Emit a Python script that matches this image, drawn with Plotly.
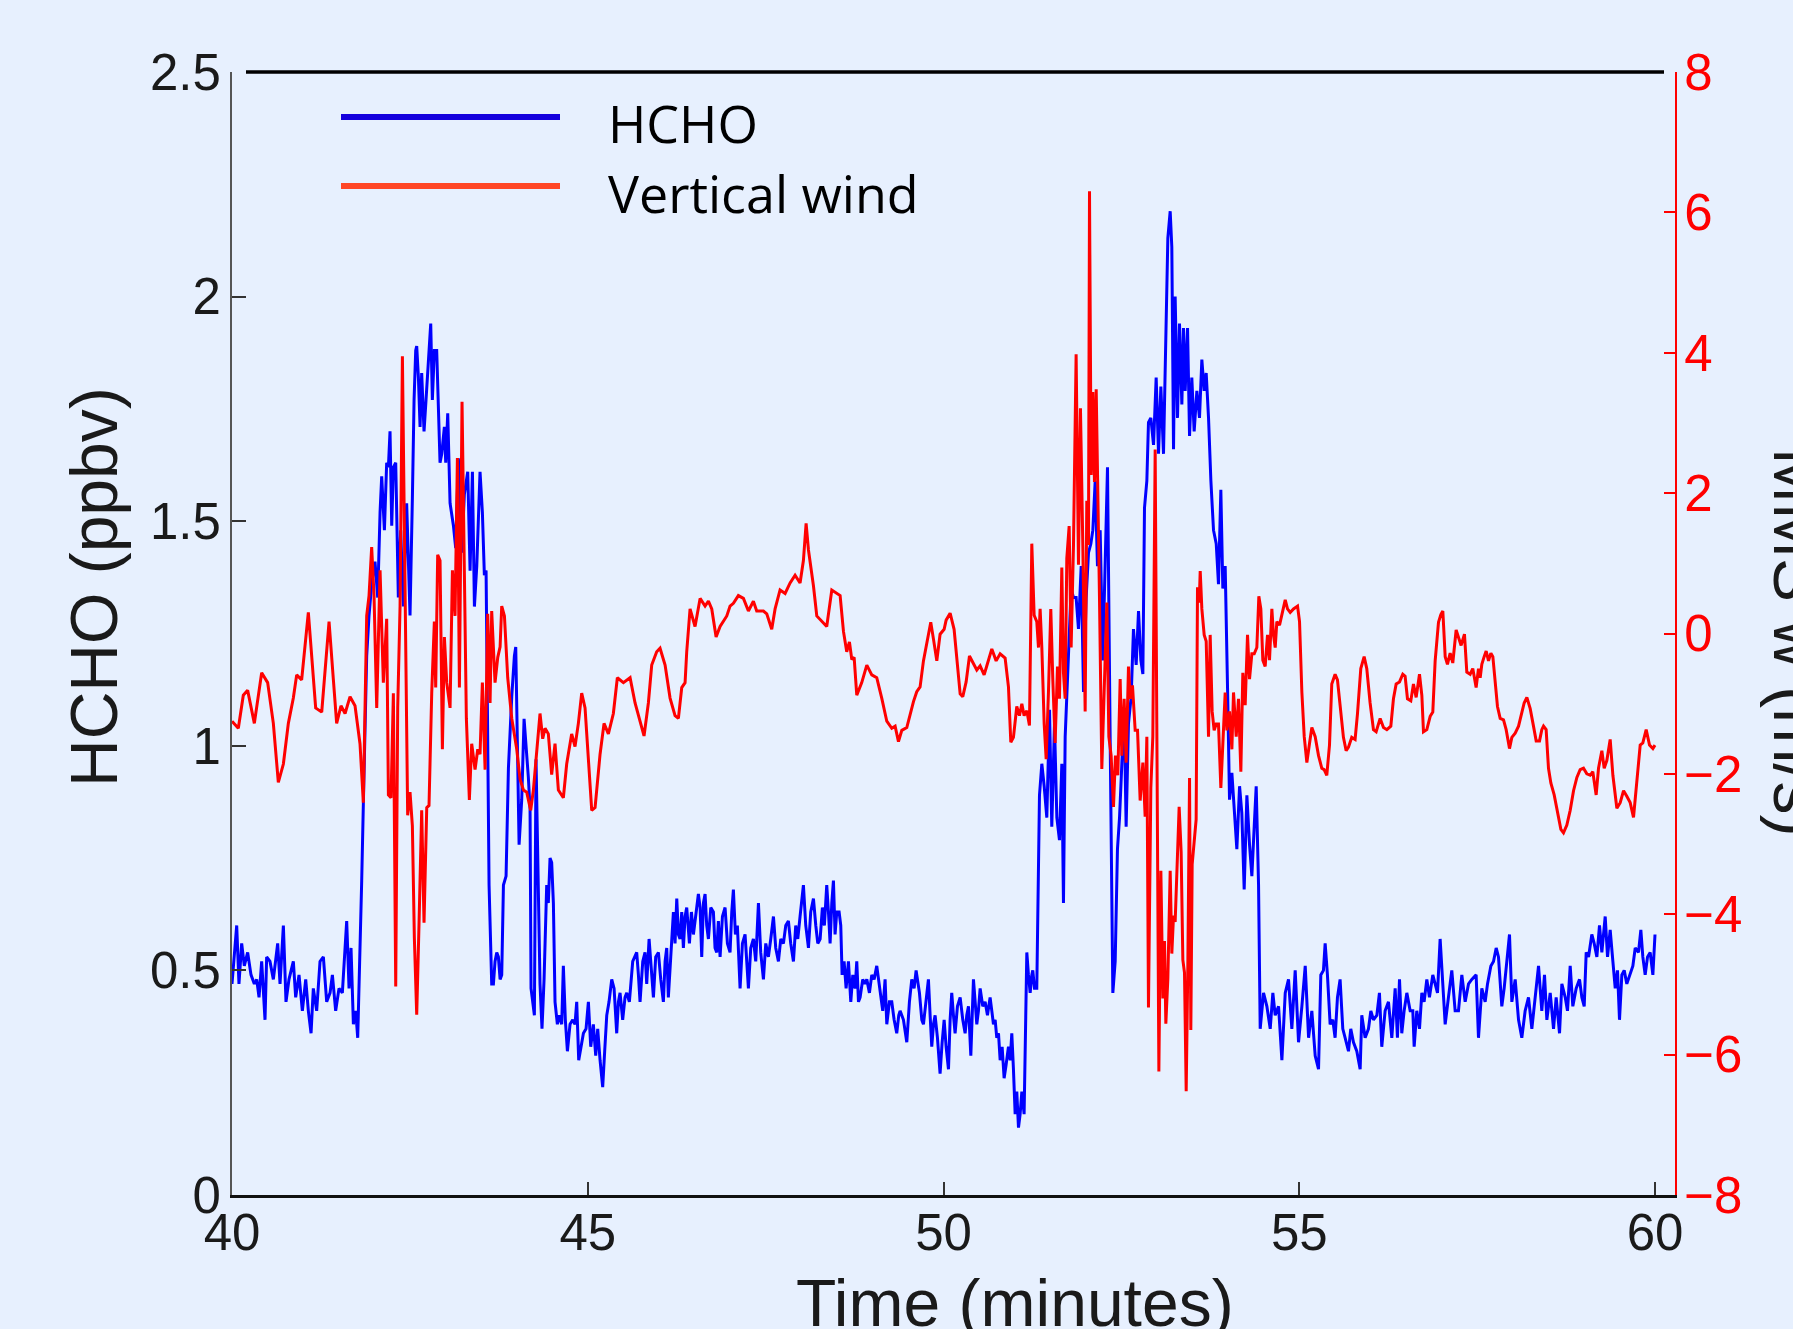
import plotly.graph_objects as go

# ---------------- data ----------------
x_ticks = [40, 45, 50, 55, 60]
hcho_ticks = [0, 0.5, 1, 1.5, 2, 2.5]
wind_ticks = [-8, -6, -4, -2, 0, 2, 4, 6, 8]

series_names = ["HCHO", "Vertical wind"]

# HCHO (ppbv) readings: (time in minutes, value)
hcho_readings = [
    (40.0,0.47),(40.033,0.53),(40.066,0.60),(40.098,0.47),(40.136,0.56),(40.173,0.51),(40.22,0.54),(40.267,0.49),
    (40.314,0.47),(40.347,0.48),(40.38,0.44),(40.417,0.52),(40.464,0.39),(40.487,0.53),(40.534,0.52),(40.581,0.48),
    (40.642,0.56),(40.675,0.47),(40.722,0.60),(40.759,0.43),(40.801,0.48),(40.862,0.52),(40.895,0.44),(40.942,0.49),
    (40.989,0.41),(41.036,0.48),(41.073,0.41),(41.111,0.36),(41.143,0.46),(41.19,0.41),(41.237,0.52),(41.284,0.53),
    (41.331,0.43),(41.378,0.45),(41.411,0.49),(41.457,0.41),(41.504,0.46),(41.551,0.45),(41.612,0.61),(41.645,0.46),
    (41.673,0.55),(41.706,0.38),(41.739,0.41),(41.767,0.35),(41.799,0.52),(41.823,0.70),(41.846,0.87),(41.893,1.20),
    (41.926,1.29),(41.963,1.36),(42.01,1.41),(42.048,1.33),(42.081,1.52),(42.104,1.60),(42.142,1.48),(42.174,1.63),
    (42.198,1.62),(42.221,1.70),(42.245,1.49),(42.268,1.62),(42.301,1.63),(42.338,1.33),(42.371,1.48),(42.409,1.31),
    (42.455,1.54),(42.502,1.29),(42.535,1.55),(42.559,1.77),(42.582,1.88),(42.596,1.89),(42.62,1.82),(42.643,1.71),
    (42.666,1.83),(42.699,1.70),(42.727,1.77),(42.76,1.87),(42.793,1.94),(42.816,1.77),(42.844,1.88),(42.877,1.88),
    (42.901,1.74),(42.924,1.63),(42.948,1.65),(42.985,1.71),(43.004,1.63),(43.032,1.74),(43.065,1.54),(43.088,1.52),
    (43.112,1.49),(43.144,1.44),(43.182,1.64),(43.205,1.52),(43.229,1.43),(43.266,1.56),(43.313,1.61),(43.346,1.39),
    (43.379,1.61),(43.407,1.31),(43.44,1.40),(43.486,1.61),(43.519,1.52),(43.547,1.38),(43.571,1.39),(43.59,1.08),
    (43.613,0.69),(43.65,0.47),(43.674,0.47),(43.697,0.52),(43.721,0.54),(43.744,0.53),(43.768,0.48),(43.791,0.49),
    (43.815,0.69),(43.852,0.71),(43.885,0.95),(43.932,1.11),(43.969,1.20),(43.988,1.22),(44.016,0.97),(44.035,0.78),
    (44.072,0.88),(44.105,1.06),(44.165,0.93),(44.189,0.86),(44.203,0.46),(44.226,0.43),(44.25,0.40),(44.273,0.97),
    (44.297,0.74),(44.329,0.47),(44.357,0.37),(44.386,0.48),(44.423,0.69),(44.446,0.65),(44.47,0.75),(44.493,0.74),
    (44.517,0.65),(44.54,0.43),(44.573,0.38),(44.601,0.40),(44.634,0.38),(44.657,0.51),(44.685,0.39),(44.714,0.32),
    (44.751,0.38),(44.789,0.39),(44.821,0.38),(44.845,0.43),(44.873,0.30),(44.901,0.33),(44.939,0.36),(44.976,0.37),
    (45.009,0.43),(45.042,0.33),(45.079,0.38),(45.112,0.31),(45.14,0.37),(45.173,0.30),(45.21,0.24),(45.238,0.32),
    (45.267,0.40),(45.299,0.43),(45.337,0.48),(45.37,0.46),(45.407,0.36),(45.431,0.43),(45.454,0.45),(45.491,0.39),
    (45.524,0.44),(45.548,0.45),(45.585,0.43),(45.632,0.52),(45.655,0.53),(45.688,0.54),(45.712,0.49),(45.735,0.43),
    (45.773,0.52),(45.805,0.54),(45.829,0.47),(45.862,0.57),(45.89,0.51),(45.923,0.44),(45.955,0.53),(45.993,0.54),
    (46.026,0.48),(46.063,0.43),(46.087,0.52),(46.11,0.55),(46.133,0.44),(46.166,0.52),(46.204,0.63),(46.227,0.56),
    (46.251,0.66),(46.274,0.58),(46.297,0.57),(46.321,0.63),(46.344,0.55),(46.368,0.62),(46.391,0.64),(46.429,0.56),
    (46.457,0.63),(46.485,0.58),(46.518,0.62),(46.555,0.67),(46.579,0.64),(46.602,0.53),(46.626,0.65),(46.649,0.67),
    (46.672,0.60),(46.696,0.57),(46.729,0.64),(46.766,0.63),(46.789,0.55),(46.813,0.54),(46.836,0.61),(46.86,0.53),
    (46.893,0.62),(46.93,0.64),(46.963,0.56),(47.0,0.54),(47.024,0.63),(47.047,0.68),(47.075,0.58),(47.103,0.60),
    (47.141,0.46),(47.174,0.56),(47.211,0.58),(47.235,0.52),(47.258,0.46),(47.291,0.55),(47.328,0.57),(47.361,0.52),
    (47.399,0.65),(47.431,0.54),(47.469,0.48),(47.502,0.56),(47.539,0.53),(47.572,0.57),(47.61,0.62),(47.642,0.55),
    (47.68,0.52),(47.713,0.57),(47.75,0.56),(47.783,0.60),(47.82,0.61),(47.853,0.56),(47.891,0.52),(47.923,0.60),
    (47.952,0.57),(47.984,0.62),(48.008,0.65),(48.031,0.69),(48.064,0.60),(48.102,0.55),(48.134,0.63),(48.172,0.66),
    (48.205,0.60),(48.233,0.56),(48.266,0.57),(48.298,0.64),(48.326,0.60),(48.359,0.69),(48.383,0.63),(48.406,0.56),
    (48.43,0.65),(48.453,0.70),(48.476,0.58),(48.5,0.63),(48.533,0.63),(48.556,0.60),(48.575,0.49),(48.603,0.52),
    (48.631,0.46),(48.664,0.52),(48.697,0.43),(48.725,0.49),(48.758,0.46),(48.781,0.52),(48.805,0.43),(48.828,0.44),
    (48.865,0.48),(48.893,0.47),(48.922,0.48),(48.959,0.45),(48.992,0.49),(49.025,0.48),(49.062,0.51),(49.095,0.47),
    (49.109,0.45),(49.146,0.41),(49.179,0.48),(49.203,0.38),(49.24,0.43),(49.273,0.43),(49.306,0.39),(49.343,0.36),
    (49.371,0.40),(49.39,0.41),(49.437,0.39),(49.484,0.34),(49.521,0.43),(49.554,0.48),(49.587,0.46),(49.615,0.50),
    (49.662,0.45),(49.695,0.39),(49.718,0.38),(49.756,0.43),(49.788,0.48),(49.812,0.40),(49.835,0.33),(49.859,0.38),
    (49.882,0.40),(49.915,0.35),(49.952,0.27),(49.981,0.34),(50.009,0.39),(50.037,0.33),(50.07,0.28),(50.093,0.39),
    (50.116,0.45),(50.14,0.40),(50.163,0.36),(50.196,0.42),(50.234,0.44),(50.271,0.39),(50.304,0.36),(50.327,0.40),
    (50.351,0.42),(50.384,0.31),(50.402,0.39),(50.421,0.48),(50.445,0.43),(50.468,0.38),(50.491,0.41),(50.515,0.46),
    (50.552,0.42),(50.585,0.43),(50.618,0.40),(50.655,0.44),(50.679,0.41),(50.702,0.38),(50.726,0.39),(50.749,0.35),
    (50.773,0.36),(50.796,0.30),(50.824,0.33),(50.852,0.26),(50.88,0.29),(50.913,0.33),(50.937,0.30),(50.96,0.36),
    (50.983,0.28),(51.007,0.18),(51.03,0.23),(51.054,0.15),(51.077,0.18),(51.101,0.23),(51.133,0.18),(51.152,0.39),
    (51.171,0.54),(51.194,0.49),(51.218,0.45),(51.241,0.49),(51.255,0.50),(51.279,0.46),(51.311,0.46),(51.349,0.89),
    (51.382,0.96),(51.415,0.91),(51.452,0.84),(51.49,1.08),(51.522,0.82),(51.56,1.05),(51.593,0.84),(51.63,0.79),
    (51.663,0.96),(51.686,0.65),(51.71,1.02),(51.733,1.11),(51.757,1.22),(51.794,1.35),(51.827,1.33),(51.864,1.33),
    (51.897,1.26),(51.935,1.40),(51.968,1.12),(52.005,1.33),(52.038,1.43),(52.071,1.45),(52.099,1.48),(52.132,1.59),
    (52.164,1.40),(52.202,1.48),(52.239,1.19),(52.272,1.40),(52.305,1.62),(52.342,1.02),(52.38,0.45),(52.413,0.52),
    (52.445,0.77),(52.474,0.84),(52.506,0.95),(52.539,1.08),(52.567,0.82),(52.6,1.05),(52.638,1.11),(52.67,1.26),
    (52.708,1.18),(52.741,1.30),(52.774,1.19),(52.802,1.16),(52.825,1.53),(52.858,1.59),(52.881,1.72),(52.914,1.73),
    (52.952,1.67),(52.989,1.82),(53.022,1.65),(53.055,1.80),(53.092,1.65),(53.125,1.96),(53.153,2.13),(53.186,2.19),
    (53.209,2.11),(53.233,1.66),(53.256,2.00),(53.289,1.73),(53.317,1.94),(53.35,1.76),(53.373,1.93),(53.397,1.79),
    (53.43,1.93),(53.458,1.69),(53.49,1.82),(53.523,1.70),(53.561,1.79),(53.598,1.73),(53.631,1.86),(53.664,1.79),
    (53.692,1.83),(53.725,1.73),(53.758,1.59),(53.795,1.48),(53.833,1.45),(53.865,1.36),(53.898,1.57),(53.926,1.35),
    (53.959,1.40),(53.992,1.13),(54.02,0.88),(54.053,0.94),(54.086,0.85),(54.123,0.77),(54.161,0.91),(54.193,0.85),
    (54.226,0.68),(54.264,0.89),(54.301,0.78),(54.334,0.71),(54.367,0.82),(54.395,0.91),(54.428,0.69),(54.451,0.37),
    (54.498,0.45),(54.545,0.42),(54.592,0.37),(54.629,0.45),(54.662,0.40),(54.709,0.42),(54.756,0.30),(54.803,0.45),
    (54.849,0.48),(54.896,0.37),(54.943,0.50),(54.99,0.34),(55.037,0.42),(55.084,0.51),(55.131,0.35),(55.177,0.41),
    (55.224,0.31),(55.271,0.28),(55.303,0.49),(55.34,0.50),(55.364,0.56),(55.396,0.49),(55.434,0.38),(55.471,0.39),
    (55.504,0.35),(55.537,0.44),(55.574,0.48),(55.612,0.37),(55.645,0.35),(55.692,0.32),(55.724,0.37),(55.762,0.34),
    (55.809,0.32),(55.856,0.28),(55.879,0.40),(55.926,0.35),(55.973,0.37),(56.006,0.41),(56.043,0.39),(56.09,0.40),
    (56.127,0.45),(56.16,0.33),(56.207,0.41),(56.254,0.43),(56.301,0.35),(56.348,0.46),(56.38,0.35),(56.409,0.48),
    (56.441,0.36),(56.474,0.41),(56.512,0.45),(56.559,0.41),(56.596,0.41),(56.615,0.33),(56.652,0.41),(56.69,0.37),
    (56.723,0.45),(56.755,0.43),(56.793,0.48),(56.83,0.44),(56.877,0.49),(56.91,0.47),(56.943,0.45),(56.98,0.57),
    (57.018,0.46),(57.051,0.38),(57.097,0.44),(57.144,0.50),(57.191,0.41),(57.238,0.41),(57.285,0.49),(57.332,0.43),
    (57.379,0.47),(57.425,0.48),(57.486,0.49),(57.519,0.35),(57.566,0.46),(57.613,0.43),(57.646,0.47),(57.693,0.51),
    (57.73,0.52),(57.768,0.55),(57.8,0.53),(57.847,0.42),(57.88,0.46),(57.918,0.53),(57.955,0.58),(57.988,0.43),
    (58.035,0.48),(58.082,0.39),(58.128,0.35),(58.175,0.41),(58.222,0.44),(58.269,0.37),(58.316,0.44),(58.363,0.51),
    (58.409,0.41),(58.447,0.49),(58.48,0.39),(58.527,0.45),(58.574,0.37),(58.611,0.44),(58.658,0.36),(58.691,0.47),
    (58.738,0.44),(58.77,0.41),(58.808,0.51),(58.845,0.42),(58.892,0.46),(58.939,0.48),(58.972,0.44),(59.005,0.42),
    (59.033,0.54),(59.066,0.53),(59.112,0.58),(59.145,0.56),(59.183,0.53),(59.22,0.60),(59.253,0.54),(59.3,0.62),
    (59.333,0.53),(59.37,0.59),(59.408,0.52),(59.441,0.46),(59.473,0.50),(59.501,0.39),(59.534,0.49),(59.567,0.50),
    (59.604,0.47),(59.651,0.49),(59.689,0.51),(59.722,0.55),(59.768,0.54),(59.801,0.59),(59.829,0.53),(59.862,0.49),
    (59.895,0.53),(59.932,0.54),(59.97,0.49),(60.0,0.58),
]

# Vertical wind w (m/s) readings: (time in minutes, value)
wind_readings = [
    (40.0,-1.25),(40.089,-1.35),(40.159,-0.88),(40.22,-0.81),(40.314,-1.28),(40.417,-0.56),(40.501,-0.70),(40.581,-1.28),
    (40.651,-2.12),(40.722,-1.86),(40.792,-1.28),(40.862,-0.92),(40.909,-0.59),(40.979,-0.66),(41.073,0.30),(41.176,-1.06),
    (41.261,-1.12),(41.364,0.17),(41.425,-0.66),(41.471,-1.28),(41.532,-1.03),(41.589,-1.14),(41.659,-0.90),(41.729,-1.03),
    (41.799,-1.57),(41.846,-2.41),(41.893,0.25),(41.926,0.54),(41.963,1.23),(41.996,0.54),(42.034,-1.06),(42.081,0.90),
    (42.127,-0.70),(42.174,0.21),(42.198,-2.30),(42.235,-2.34),(42.268,-0.85),(42.301,-5.03),(42.329,-1.06),(42.362,0.39),
    (42.395,3.95),(42.432,0.39),(42.469,-2.59),(42.502,-2.26),(42.535,-2.74),(42.563,-4.34),(42.596,-5.43),(42.629,-4.12),
    (42.666,-2.52),(42.699,-4.12),(42.737,-2.48),(42.769,-2.45),(42.807,-0.85),(42.844,0.17),(42.863,-0.77),(42.891,1.12),
    (42.924,1.04),(42.957,-1.65),(42.985,-0.05),(43.018,-0.70),(43.065,-1.06),(43.098,0.90),(43.135,0.25),(43.168,2.50),
    (43.196,-0.77),(43.233,3.30),(43.266,0.39),(43.294,-1.21),(43.336,-2.37),(43.369,-1.57),(43.416,-1.94),(43.454,-1.65),
    (43.486,-1.72),(43.519,-0.70),(43.557,-1.94),(43.594,0.28),(43.627,-0.99),(43.65,0.32),(43.697,-0.70),(43.735,-0.34),
    (43.768,-0.19),(43.791,0.39),(43.829,0.25),(43.875,-0.63),(43.932,-1.21),(44.002,-1.65),(44.049,-2.08),(44.096,-2.23),
    (44.142,-2.26),(44.198,-2.52),(44.236,-2.23),(44.282,-1.65),(44.329,-1.14),(44.367,-1.50),(44.4,-1.35),(44.446,-1.43),
    (44.493,-2.01),(44.54,-1.57),(44.587,-2.23),(44.657,-2.34),(44.704,-1.86),(44.774,-1.43),(44.821,-1.61),(44.868,-1.28),
    (44.915,-0.85),(44.962,-1.06),(45.009,-1.79),(45.056,-2.52),(45.103,-2.48),(45.173,-1.72),(45.229,-1.28),(45.29,-1.43),
    (45.36,-1.14),(45.416,-0.63),(45.501,-0.70),(45.595,-0.63),(45.665,-0.99),(45.735,-1.25),(45.791,-1.46),(45.852,-0.99),
    (45.899,-0.45),(45.969,-0.26),(46.016,-0.21),(46.087,-0.45),(46.157,-0.92),(46.227,-1.17),(46.274,-1.21),(46.321,-0.77),
    (46.368,-0.70),(46.391,-0.26),(46.438,0.35),(46.508,0.10),(46.579,0.50),(46.649,0.39),(46.696,0.46),(46.743,0.35),
    (46.804,-0.05),(46.86,0.10),(46.954,0.25),(47.0,0.39),(47.047,0.43),(47.117,0.54),(47.188,0.50),(47.258,0.32),
    (47.328,0.46),(47.375,0.32),(47.469,0.32),(47.516,0.28),(47.586,0.06),(47.633,0.35),(47.703,0.62),(47.774,0.57),
    (47.844,0.72),(47.914,0.83),(47.984,0.72),(48.031,1.04),(48.069,1.57),(48.102,1.19),(48.172,0.68),(48.219,0.25),
    (48.289,0.17),(48.359,0.10),(48.43,0.62),(48.5,0.57),(48.547,0.54),(48.594,0.03),(48.64,-0.26),(48.678,-0.12),
    (48.711,-0.37),(48.744,-0.34),(48.781,-0.88),(48.851,-0.70),(48.922,-0.45),(48.992,-0.59),(49.062,-0.63),(49.132,-0.92),
    (49.203,-1.25),(49.273,-1.35),(49.32,-1.32),(49.367,-1.54),(49.414,-1.38),(49.484,-1.34),(49.531,-1.14),(49.578,-0.97),
    (49.624,-0.83),(49.671,-0.76),(49.718,-0.39),(49.765,-0.15),(49.821,0.16),(49.859,-0.08),(49.906,-0.39),(49.952,-0.01),
    (50.009,0.06),(50.037,0.19),(50.093,0.29),(50.149,0.06),(50.196,-0.49),(50.234,-0.86),(50.271,-0.90),(50.318,-0.69),
    (50.365,-0.32),(50.412,-0.42),(50.468,-0.52),(50.515,-0.46),(50.571,-0.59),(50.609,-0.46),(50.679,-0.22),(50.74,-0.39),
    (50.796,-0.29),(50.866,-0.35),(50.913,-0.76),(50.946,-1.55),(50.983,-1.48),(51.03,-1.04),(51.068,-1.17),(51.101,-1.00),
    (51.133,-1.17),(51.171,-1.10),(51.208,-1.31),(51.241,1.28),(51.274,0.26),(51.311,0.17),(51.335,-0.20),(51.358,0.35),
    (51.382,-0.20),(51.415,-1.29),(51.443,-1.79),(51.475,-0.84),(51.508,0.35),(51.536,-0.65),(51.569,-1.56),(51.602,-0.47),
    (51.63,-0.93),(51.663,0.94),(51.686,-0.56),(51.71,-0.93),(51.733,1.07),(51.766,1.53),(51.794,-0.20),(51.827,1.26),
    (51.864,3.98),(51.897,0.98),(51.925,3.21),(51.958,1.26),(51.991,-1.11),(52.014,1.89),(52.038,1.26),(52.052,6.30),
    (52.075,2.26),(52.099,3.44),(52.122,2.16),(52.146,3.48),(52.169,2.26),(52.192,0.53),(52.225,-1.93),(52.258,-0.84),
    (52.296,0.44),(52.324,-1.47),(52.356,-1.74),(52.389,-2.47),(52.417,-1.74),(52.45,-2.02),(52.483,-0.65),(52.506,-1.74),
    (52.539,-0.93),(52.567,-1.84),(52.6,-0.47),(52.624,-0.93),(52.656,-0.74),(52.694,-1.38),(52.727,-1.38),(52.764,-2.38),
    (52.802,-1.84),(52.834,-2.61),(52.858,-1.47),(52.881,-5.33),(52.914,-2.20),(52.942,-1.47),(52.975,2.62),(52.998,-1.29),
    (53.027,-6.24),(53.055,-3.38),(53.083,-5.20),(53.106,-4.38),(53.125,-5.56),(53.153,-4.92),(53.186,-3.38),(53.209,-4.56),
    (53.233,-4.02),(53.256,-4.11),(53.28,-3.47),(53.312,-2.47),(53.34,-3.11),(53.364,-4.65),(53.387,-4.83),(53.411,-6.52),
    (53.434,-4.74),(53.458,-2.06),(53.476,-5.65),(53.495,-3.29),(53.523,-2.97),(53.551,-2.65),(53.57,0.66),(53.594,0.44),
    (53.608,0.89),(53.631,0.35),(53.664,-0.02),(53.692,-0.11),(53.725,-1.47),(53.748,-0.02),(53.776,-1.11),(53.804,-1.38),
    (53.833,-1.29),(53.865,-1.29),(53.898,-2.20),(53.926,-1.65),(53.959,-0.84),(53.983,-1.38),(54.02,-1.11),(54.053,-1.65),
    (54.076,-0.84),(54.114,-1.47),(54.146,-0.93),(54.179,-1.97),(54.207,-0.56),(54.24,-1.02),(54.273,-0.02),(54.301,-0.65),
    (54.334,-0.29),(54.367,-0.29),(54.404,-0.20),(54.432,0.53),(54.46,0.35),(54.488,-0.38),(54.521,-0.47),(54.554,-0.02),
    (54.582,-0.38),(54.615,0.35),(54.638,-0.02),(54.662,-0.20),(54.685,0.17),(54.723,0.12),(54.756,0.26),(54.803,0.48),
    (54.835,0.35),(54.873,0.30),(54.919,0.35),(54.976,0.39),(55.004,0.17),(55.037,-0.84),(55.07,-1.47),(55.107,-1.84),
    (55.145,-1.56),(55.177,-1.34),(55.224,-1.47),(55.271,-1.74),(55.317,-1.92),(55.35,-1.94),(55.387,-2.02),(55.425,-1.59),
    (55.457,-0.72),(55.504,-0.58),(55.537,-0.66),(55.574,-1.04),(55.621,-1.48),(55.659,-1.67),(55.692,-1.62),(55.738,-1.48),
    (55.785,-1.51),(55.818,-1.15),(55.865,-0.50),(55.912,-0.33),(55.949,-0.50),(55.996,-0.99),(56.043,-1.37),(56.081,-1.40),
    (56.137,-1.21),(56.184,-1.34),(56.231,-1.37),(56.287,-1.32),(56.324,-0.93),(56.362,-0.72),(56.409,-0.69),(56.455,-0.58),
    (56.488,-0.61),(56.521,-0.93),(56.568,-0.96),(56.605,-0.72),(56.643,-0.91),(56.69,-0.58),(56.723,-0.88),(56.746,-1.40),
    (56.793,-1.37),(56.84,-1.18),(56.877,-1.12),(56.91,-0.39),(56.957,0.16),(56.99,0.27),(57.018,0.32),(57.051,-0.33),
    (57.083,-0.44),(57.121,-0.28),(57.158,-0.42),(57.205,0.05),(57.238,-0.06),(57.275,-0.17),(57.322,-0.01),(57.355,-0.55),
    (57.402,-0.58),(57.439,-0.50),(57.486,-0.77),(57.519,-0.50),(57.543,-0.63),(57.566,-0.44),(57.599,-0.33),(57.627,-0.25),
    (57.66,-0.39),(57.693,-0.28),(57.721,-0.33),(57.753,-0.72),(57.786,-1.04),(57.824,-1.21),(57.871,-1.23),(57.908,-1.37),
    (57.955,-1.64),(57.988,-1.48),(58.035,-1.42),(58.082,-1.32),(58.128,-1.10),(58.161,-0.99),(58.199,-0.91),(58.246,-1.07),
    (58.292,-1.32),(58.33,-1.53),(58.377,-1.53),(58.409,-1.37),(58.433,-1.32),(58.47,-1.37),(58.503,-1.92),(58.536,-2.13),
    (58.583,-2.30),(58.63,-2.57),(58.677,-2.79),(58.714,-2.84),(58.761,-2.73),(58.808,-2.52),(58.855,-2.24),(58.902,-2.05),
    (58.948,-1.94),(58.995,-1.92),(59.042,-2.00),(59.089,-2.02),(59.126,-1.97),(59.173,-2.30),(59.206,-1.92),(59.253,-1.67),
    (59.286,-1.92),(59.323,-1.81),(59.37,-1.51),(59.408,-2.02),(59.464,-2.49),(59.511,-2.41),(59.558,-2.24),(59.604,-2.32),
    (59.651,-2.41),(59.698,-2.62),(59.745,-2.08),(59.792,-1.59),(59.829,-1.56),(59.876,-1.37),(59.923,-1.59),(59.97,-1.64),
    (60.0,-1.59),
]

hcho_time = [p[0] for p in hcho_readings]
hcho_ppbv = [p[1] for p in hcho_readings]
wind_time = [p[0] for p in wind_readings]
wind_ms = [p[1] for p in wind_readings]

# ---------------- figure ----------------
W, H = 1793, 1329
L, R, T, B = 232, 118, 72, 134
PW, PH = W - L - R, H - T - B


def px_x(px):
    return (px - L) / PW


def px_y(py):
    return (H - B - py) / PH


BG = "#E7F0FE"
FAM = "Liberation Sans, Arial, Helvetica, sans-serif"
TICK_FONT = dict(family=FAM, size=51, color="#1a1a1a")
TITLE_FONT = dict(family=FAM, size=66, color="#1a1a1a")
LEG_FONT = dict(family="Open Sans, Noto Sans, sans-serif", size=52, color="#000000")

fig = go.Figure()
fig.add_trace(go.Scatter(x=hcho_time, y=hcho_ppbv, mode="lines", name=series_names[0],
                         line=dict(color="#0000FF", width=3), yaxis="y"))
fig.add_trace(go.Scatter(x=wind_time, y=wind_ms, mode="lines", name=series_names[1],
                         line=dict(color="#FF0000", width=3), yaxis="y2"))

x_max = 40 + 20 * (1675 - 232) / (1655 - 232)

fig.update_layout(
    width=W, height=H,
    margin=dict(l=L, r=R, t=T, b=B, pad=0),
    paper_bgcolor=BG, plot_bgcolor=BG,
    showlegend=False,
    xaxis=dict(range=[40, x_max], tickvals=x_ticks, ticks="inside", ticklen=13, tickwidth=1.5,
               tickcolor="#333333", showline=True, linecolor="#111111", linewidth=3,
               showgrid=False, zeroline=False, tickfont=TICK_FONT, ticklabelstandoff=-9),
    yaxis=dict(range=[0, 2.5], tickvals=hcho_ticks, ticks="inside", ticklen=14, tickwidth=1.5,
               tickcolor="#333333", showline=True, linecolor="#555555", linewidth=2,
               showgrid=False, zeroline=False, tickfont=TICK_FONT, ticklabelstandoff=-1),
    yaxis2=dict(range=[-8, 8], tickvals=wind_ticks, overlaying="y", side="right", ticks="inside",
                ticklen=11, tickwidth=1.5, tickcolor="#FF0000", showline=True, linecolor="#FF0000",
                linewidth=2, showgrid=False, zeroline=False,
                tickfont=dict(family=FAM, size=51, color="#FF0000"),
                ticklabelstandoff=-3),
)

shapes = [
    # heavy top frame line
    dict(type="line", xref="paper", yref="paper", x0=px_x(246), x1=px_x(1664), y0=1, y1=1,
         line=dict(color="#000000", width=3.5)),
    # legend samples
    dict(type="line", xref="paper", yref="paper", x0=px_x(341), x1=px_x(560), y0=px_y(117), y1=px_y(117),
         line=dict(color="#1500DD", width=6)),
    dict(type="line", xref="paper", yref="paper", x0=px_x(341), x1=px_x(560), y0=px_y(186), y1=px_y(186),
         line=dict(color="#FF4626", width=6)),
]

annotations = [
    dict(text=series_names[0], xref="paper", yref="paper", x=px_x(606), y=px_y(122), xanchor="left",
         yanchor="middle", showarrow=False, font=LEG_FONT),
    dict(text=series_names[1], xref="paper", yref="paper", x=px_x(606), y=px_y(192), xanchor="left",
         yanchor="middle", showarrow=False, font=LEG_FONT),
    dict(text="Time (minutes)", xref="paper", yref="paper", x=px_x(1015), y=px_y(1303), xanchor="center",
         yanchor="middle", showarrow=False, font=TITLE_FONT),
    dict(text="HCHO (ppbv)", xref="paper", yref="paper", x=px_x(94), y=px_y(587), xanchor="center",
         yanchor="middle", textangle=-90, showarrow=False, font=TITLE_FONT),
    dict(text="MMS w (m/s)", xref="paper", yref="paper", x=px_x(1797), y=px_y(642), xanchor="center",
         yanchor="middle", textangle=90, showarrow=False, font=TITLE_FONT),
]

fig.update_layout(shapes=shapes, annotations=annotations)

fig.write_html(
    "out.html",
    config={"displayModeBar": False},
    post_script=(
        "document.documentElement.style.margin='0';document.body.style.margin='0';"
        "document.body.style.padding='0';document.body.style.overflow='hidden';"
        "document.documentElement.style.background='" + BG + "';document.body.style.background='" + BG + "';"
    ),
)
